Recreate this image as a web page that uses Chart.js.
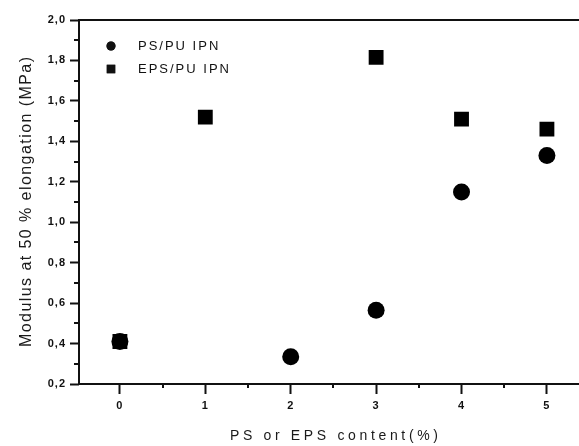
<!DOCTYPE html>
<html>
<head>
<meta charset="utf-8">
<script src="https://cdn.jsdelivr.net/npm/chart.js@4/dist/chart.umd.min.js"></script>
<style>
html,body{margin:0;padding:0;background:#fff;overflow:hidden;}
#wrap{width:588px;height:446px;position:relative;}
</style>
</head>
<body>
<div id="wrap"><canvas id="c"></canvas></div>
<script>
// ---- data ----
const psContent  = [0, 2, 3, 4, 5];
const psModulus  = [0.41, 0.335, 0.565, 1.15, 1.33];
const epsContent = [0, 1, 3, 4, 5];
const epsModulus = [0.41, 1.52, 1.815, 1.51, 1.46];
const seriesLabels = ['PS/PU IPN', 'EPS/PU IPN'];
const xTickValues = [0, 1, 2, 3, 4, 5];
const xTickLabels = ['0', '1', '2', '3', '4', '5'];
const yTickValues = [0.2, 0.4, 0.6, 0.8, 1.0, 1.2, 1.4, 1.6, 1.8, 2.0];
const yTickLabels = ['0,2', '0,4', '0,6', '0,8', '1,0', '1,2', '1,4', '1,6', '1,8', '2,0'];
const xMinorValues = [0.5, 1.5, 2.5, 3.5, 4.5];
const yMinorValues = [0.3, 0.5, 0.7, 0.9, 1.1, 1.3, 1.5, 1.7, 1.9];
const xTitle = 'PS or EPS content(%)';
const yTitle = 'Modulus at 50 % elongation (MPa)';

const toPoints = (xs, ys) => xs.map((x, i) => ({x: x, y: ys[i]}));
const FONT = '"Liberation Sans", Arial, sans-serif';

function spacedText(ctx, text, cx, cy, target) {
  ctx.letterSpacing = '0px';
  const w = ctx.measureText(text).width;
  const sp = Math.max(0, (target - w) / (text.length - 1));
  ctx.letterSpacing = sp + 'px';
  const w2 = ctx.measureText(text).width;
  ctx.textAlign = 'left';
  ctx.fillText(text, cx - (w2 - sp) / 2, cy);
}

const frame = {
  id: 'frame',
  beforeDraw(chart) { chart.ctx.letterSpacing = '1px'; },
  afterDraw(chart) {
    const ctx = chart.ctx, a = chart.chartArea;
    const xs = chart.scales.x, ys = chart.scales.y;
    ctx.save();
    ctx.strokeStyle = '#111';
    ctx.lineWidth = 2;
    ctx.strokeRect(a.left, a.top, a.right - a.left + 20, a.bottom - a.top);
    ctx.beginPath();
    yMinorValues.forEach(v => { const p = Math.round(ys.getPixelForValue(v)); ctx.moveTo(a.left - 5, p); ctx.lineTo(a.left, p); });
    xMinorValues.forEach(v => { const p = Math.round(xs.getPixelForValue(v)); ctx.moveTo(p, a.bottom); ctx.lineTo(p, a.bottom + 4); });
    ctx.stroke();
    // axis titles
    ctx.fillStyle = '#1a1a1a';
    ctx.textBaseline = 'alphabetic';
    ctx.font = '14px ' + FONT;
    spacedText(ctx, xTitle, 334, 440, 208);
    ctx.save();
    ctx.translate(31, 202);
    ctx.rotate(-Math.PI / 2);
    ctx.font = '16px ' + FONT;
    spacedText(ctx, yTitle, 0, 0, 290);
    ctx.restore();
    // legend
    ctx.fillStyle = '#111';
    ctx.font = '13px ' + FONT;
    ctx.letterSpacing = '2px';
    ctx.textBaseline = 'middle';
    ctx.textAlign = 'left';
    const styles = [{pointStyle: 'circle', radius: 4.5}, {pointStyle: 'rect', radius: 6}];
    chart.data.datasets.forEach((ds, i) => {
      const y = 46 + i * 23;
      Chart.helpers.drawPoint(ctx, {pointStyle: styles[i].pointStyle, radius: styles[i].radius, rotation: 0, borderWidth: 0}, 111, y);
      ctx.fill();
      ctx.fillText(ds.label, 138, y);
    });
    ctx.restore();
  }
};

new Chart(document.getElementById('c'), {
  type: 'scatter',
  data: {
    datasets: [
      {label: seriesLabels[0], data: toPoints(psContent, psModulus), pointStyle: 'circle', pointRadius: 8.5,
       backgroundColor: '#000', borderColor: '#000', borderWidth: 0, pointHoverRadius: 8.5},
      {label: seriesLabels[1], data: toPoints(epsContent, epsModulus), pointStyle: 'rect', pointRadius: 10.5,
       backgroundColor: '#000', borderColor: '#000', borderWidth: 0, pointHoverRadius: 10.5}
    ]
  },
  options: {
    responsive: true,
    maintainAspectRatio: false,
    animation: false,
    events: [],
    layout: {padding: {top: 20, right: 0, bottom: 0, left: 0}},
    plugins: {legend: {display: false}, tooltip: {enabled: false}},
    scales: {
      x: {
        type: 'linear', min: -0.479, max: 5.358,
        afterBuildTicks: s => { s.ticks = xTickValues.map(v => ({value: v})); },
        afterFit: s => { s.height = 62; },
        grid: {drawOnChartArea: false, drawTicks: true, tickLength: 10, tickWidth: 2, tickColor: '#111'},
        border: {display: false},
        ticks: {color: '#111', padding: 5, font: {size: 11, weight: 'bold', family: FONT},
                callback: (v) => { const i = xTickValues.indexOf(v); return i >= 0 ? xTickLabels[i] : ''; }},
        title: {display: false}
      },
      y: {
        type: 'linear', min: 0.2, max: 2.0,
        afterBuildTicks: s => { s.ticks = yTickValues.map(v => ({value: v})); },
        afterFit: s => { s.width = 79; },
        grid: {drawOnChartArea: false, drawTicks: true, tickLength: 9, tickWidth: 2, tickColor: '#111'},
        border: {display: false},
        ticks: {color: '#111', padding: 4, font: {size: 11, weight: 'bold', family: FONT},
                callback: (v) => { const i = yTickValues.findIndex(t => Math.abs(t - v) < 1e-6); return i >= 0 ? yTickLabels[i] : ''; }},
        title: {display: false}
      }
    }
  },
  plugins: [frame]
});
</script>
</body>
</html>
